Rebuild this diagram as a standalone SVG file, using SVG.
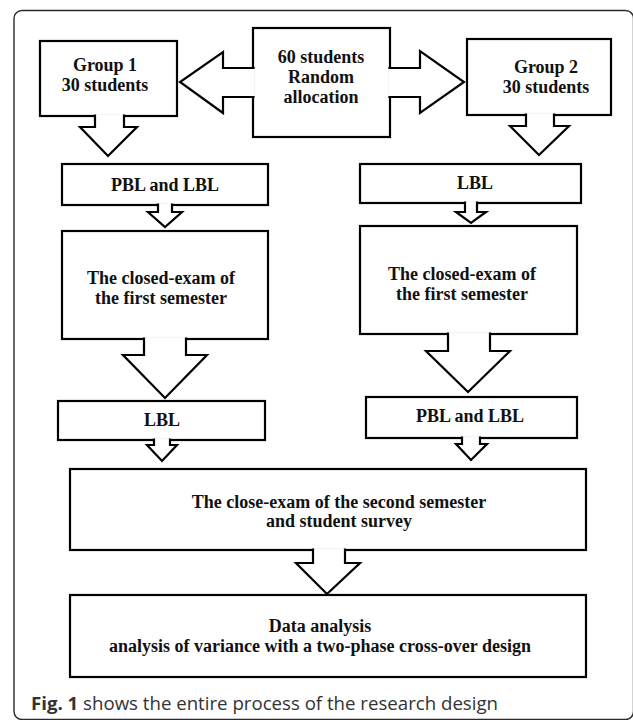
<svg xmlns="http://www.w3.org/2000/svg" width="633" height="720" viewBox="0 0 633 720">
  <style>
    .frame { fill: none; stroke: #2a2a2a; stroke-width: 1.4; }
    .box { fill: #ffffff; stroke: #000000; stroke-width: 2.2; }
    .arrow { fill: #ffffff; stroke: #000000; stroke-width: 2.2; stroke-linejoin: miter; }
    .lbl { font-family: "Liberation Serif", "Times New Roman", serif; font-weight: bold; font-size: 18px; fill: #111111; text-anchor: middle; }
    .cap { font-family: "Open Sans", "Noto Sans", sans-serif; font-size: 18px; fill: #333333; }
  </style>
  <rect width="633" height="720" fill="#ffffff"/>
  <!-- figure frame -->
  <rect class="frame" x="14" y="10.5" width="619.5" height="709" rx="8" ry="8"/>

  <!-- nodes -->
  <g id="group1">
    <rect class="box" x="40" y="41" width="137" height="75"/>
    <text class="lbl" x="105" y="71">Group 1</text>
    <text class="lbl" x="105" y="91">30 students</text>
  </g>
  <g id="allocation">
    <rect class="box" x="253" y="28" width="137" height="109"/>
    <text class="lbl" x="321" y="63">60 students</text>
    <text class="lbl" x="321" y="83">Random</text>
    <text class="lbl" x="321" y="103">allocation</text>
  </g>
  <g id="group2">
    <rect class="box" x="467" y="39" width="144" height="76"/>
    <text class="lbl" x="546" y="73">Group 2</text>
    <text class="lbl" x="546" y="93">30 students</text>
  </g>
  <g id="g1-phase1">
    <rect class="box" x="62" y="164" width="206" height="41"/>
    <text class="lbl" x="165" y="191">PBL and LBL</text>
  </g>
  <g id="g1-exam1">
    <rect class="box" x="62" y="231" width="206" height="108"/>
    <text class="lbl" x="161" y="284">The closed-exam of</text>
    <text class="lbl" x="161" y="304">the first semester</text>
  </g>
  <g id="g1-phase2">
    <rect class="box" x="58" y="401" width="207" height="39"/>
    <text class="lbl" x="162" y="426">LBL</text>
  </g>
  <g id="g2-phase1">
    <rect class="box" x="360" y="164" width="221" height="39"/>
    <text class="lbl" x="475" y="189">LBL</text>
  </g>
  <g id="g2-exam1">
    <rect class="box" x="360" y="226" width="217" height="108"/>
    <text class="lbl" x="462" y="280">The closed-exam of</text>
    <text class="lbl" x="462" y="300">the first semester</text>
  </g>
  <g id="g2-phase2">
    <rect class="box" x="366" y="397" width="211" height="41"/>
    <text class="lbl" x="470" y="422">PBL and LBL</text>
  </g>
  <g id="exam2">
    <rect class="box" x="70" y="469" width="516" height="81"/>
    <text class="lbl" x="339" y="508">The close-exam of the second semester</text>
    <text class="lbl" x="339" y="527">and student survey</text>
  </g>
  <g id="analysis">
    <rect class="box" x="70" y="595" width="516" height="82"/>
    <text class="lbl" x="320" y="632">Data analysis</text>
    <text class="lbl" x="320" y="652">analysis of variance with a two-phase cross-over design</text>
  </g>

  <!-- block-arrow connectors; open ends sit over the source box edge -->
  <g id="connectors">
    <path class="arrow" d="M254.6,68 L223,68 L223,52 L180,82 L223,113 L223,97 L254.6,97"/>
    <path class="arrow" d="M388.4,68 L420,68 L420,51 L464,82 L420,113 L420,97 L388.4,97"/>
    <path class="arrow" d="M95,114.4 L95,127 L80,127 L108,156 L137,127 L124,127 L124,114.4"/>
    <path class="arrow" d="M526,113.4 L526,126 L510,126 L539,155 L569,126 L554,126 L554,113.4"/>
    <path class="arrow" d="M158,203.4 L158,212 L148,212 L165,227 L182,212 L172,212 L172,203.4"/>
    <path class="arrow" d="M144,337.4 L144,355 L123,355 L165,398 L207,355 L186,355 L186,337.4"/>
    <path class="arrow" d="M154,438.4 L154,445 L147,445 L162,461 L177,445 L170,445 L170,438.4"/>
    <path class="arrow" d="M465,201.4 L465,212 L456,212 L471,223 L486,212 L477,212 L477,201.4"/>
    <path class="arrow" d="M448,332.4 L448,351 L426,351 L468,392 L510,351 L490,351 L490,332.4"/>
    <path class="arrow" d="M462,436.4 L462,444 L456,444 L471,460 L487,444 L480,444 L480,436.4"/>
    <path class="arrow" d="M313,548.4 L313,563 L296,563 L327,594 L360,563 L345,563 L345,548.4"/>
  </g>

  <!-- caption -->
  <text class="cap" x="31" y="710" textLength="467" lengthAdjust="spacingAndGlyphs"><tspan font-weight="bold">Fig. 1</tspan> shows the entire process of the research design</text>
</svg>
